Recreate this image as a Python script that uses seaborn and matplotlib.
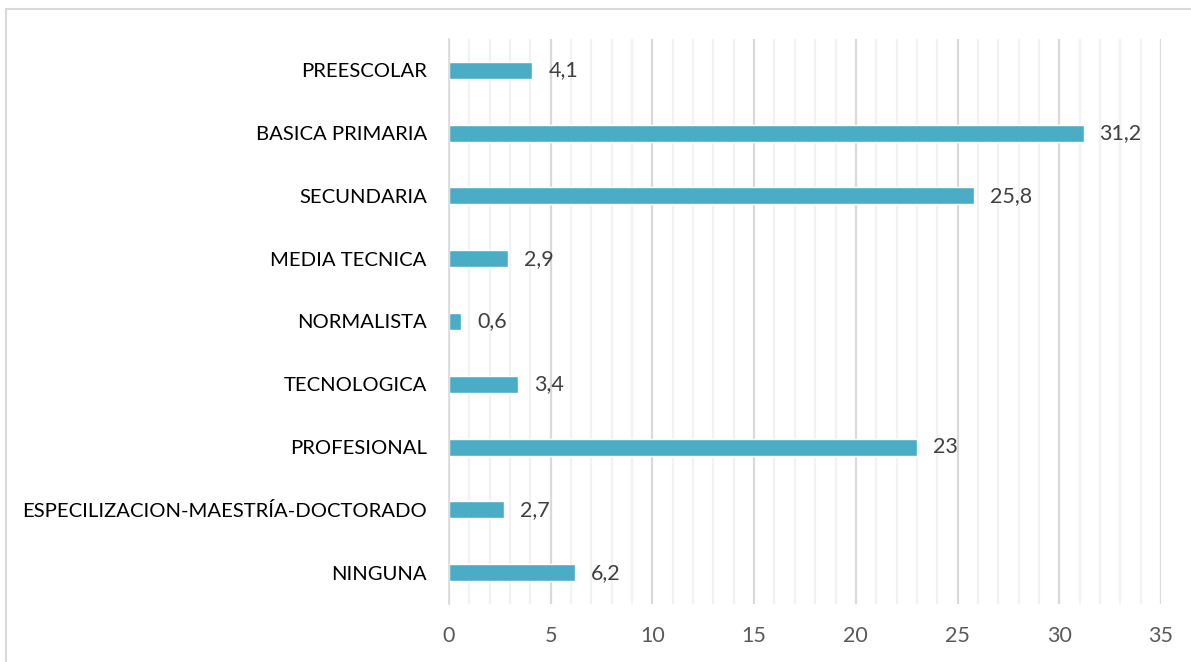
import matplotlib
matplotlib.use('Agg')
import matplotlib.pyplot as plt
import seaborn as sns
import pandas as pd
from matplotlib.patches import Rectangle
from matplotlib.ticker import MultipleLocator

sns.set_style("white")
plt.rcParams['font.family'] = ['Lato', 'DejaVu Sans']

# Data
categories = ['PREESCOLAR', 'BASICA PRIMARIA', 'SECUNDARIA', 'MEDIA TECNICA',
              'NORMALISTA', 'TECNOLOGICA', 'PROFESIONAL',
              'ESPECILIZACION-MAESTRÍA-DOCTORADO', 'NINGUNA']
values = [4.1, 31.2, 25.8, 2.9, 0.6, 3.4, 23, 2.7, 6.2]
value_labels = ['4,1', '31,2', '25,8', '2,9', '0,6', '3,4', '23', '2,7', '6,2']

df = pd.DataFrame({'nivel': categories, 'pct': values})

fig = plt.figure(figsize=(11.91, 6.62), dpi=100)
ax = fig.add_axes([449 / 1191, 1 - 604 / 662, (1161 - 449) / 1191, (604 - 39) / 662])

sns.barplot(data=df, x='pct', y='nivel', orient='h', color='#4BACC6',
            saturation=1, width=0.27, ax=ax)

ax.set_xlim(0, 35)
ax.set_ylim(8.5, -0.5)
ax.xaxis.set_major_locator(MultipleLocator(5))
ax.xaxis.set_minor_locator(MultipleLocator(1))
ax.grid(axis='x', which='major', color='#D9D9D9', linewidth=1.6, zorder=0)
ax.grid(axis='x', which='minor', color='#F2F2F2', linewidth=1.6, zorder=0)
ax.set_axisbelow(True)

for s in ['top', 'right', 'bottom']:
    ax.spines[s].set_visible(False)
ax.spines['left'].set_color('#D9D9D9')
ax.spines['left'].set_linewidth(1.2)

# y ticks at category boundaries
ax.set_yticks(range(len(categories)))
ax.set_yticklabels(categories)
ax.tick_params(axis='y', which='major', length=0, pad=16, labelsize=14.6, labelcolor='#000000')
ax.set_yticks([i - 0.5 for i in range(len(categories) + 1)], minor=True)
ax.tick_params(axis='y', which='minor', length=6, width=1.2, color='#D9D9D9')
ax.tick_params(axis='x', which='both', length=0, pad=16, labelsize=15.5, labelcolor='#595959')
ax.set_xlabel('')
ax.set_ylabel('')

for i, (v, lab) in enumerate(zip(values, value_labels)):
    ax.text(v + 0.78, i, lab, va='center', ha='left', fontsize=15.5, color='#404040')

# outer border
fig.patches.append(Rectangle((6 / 1191, -0.05), 1.2, 1 - 9 / 662 + 0.05,
                             transform=fig.transFigure, fill=False,
                             edgecolor='#D9D9D9', linewidth=1.5))

plt.savefig('out.png', dpi=100)
plt.close()
